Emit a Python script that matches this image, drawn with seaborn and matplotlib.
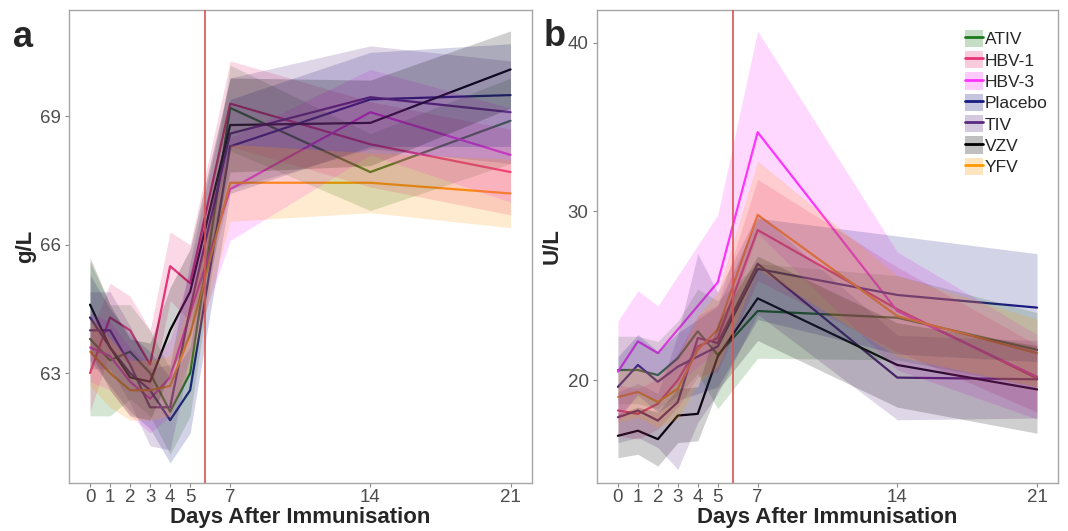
import pandas as pd
import matplotlib.pyplot as plt
import seaborn as sns
from matplotlib.patches import Patch
from matplotlib.lines import Line2D

# days sampled
days = [0, 1, 2, 3, 4, 5, 7, 14, 21]
groups = ["ATIV", "HBV-1", "HBV-3", "Placebo", "TIV", "VZV", "YFV"]
colors = ["#1b7a1b", "#e8337a", "#ff33ff", "#1a1a80", "#5a2a82", "#000000", "#ff9900"]

# panel a: total protein (g/L), group means and CI half-widths
a_ativ = [63.8, 63.3, 63.5, 63.0, 62.1, 63.0, 69.2, 67.7, 68.9]
a_hbv1 = [63.0, 64.3, 64.0, 63.2, 65.5, 65.1, 69.3, 68.35, 67.7]
a_hbv3 = [63.6, 63.4, 62.8, 62.4, 62.9, 64.4, 67.3, 69.1, 68.1]
a_placebo = [64.3, 63.6, 63.0, 62.6, 61.9, 62.6, 68.3, 69.4, 69.5]
a_tiv = [64.0, 64.0, 63.2, 62.2, 62.2, 64.5, 68.6, 69.45, 69.1]
a_vzv = [64.6, 63.6, 62.9, 62.8, 64.0, 64.9, 68.8, 68.85, 70.1]
a_yfv = [63.5, 63.0, 62.6, 62.6, 62.7, 63.9, 67.45, 67.45, 67.2]

a_ci_ativ = [1.8, 1.3, 1.1, 1.0, 1.0, 1.0, 1.0, 0.9, 1.0]
a_ci_hbv1 = [0.9, 0.8, 0.8, 0.8, 0.8, 0.9, 1.0, 1.0, 1.0]
a_ci_hbv3 = [0.8, 0.8, 0.8, 0.8, 0.9, 1.0, 1.2, 1.0, 1.1]
a_ci_placebo = [1.0, 0.9, 0.9, 0.9, 1.0, 1.0, 1.1, 1.1, 1.2]
a_ci_tiv = [0.9, 0.9, 0.9, 0.9, 1.0, 1.1, 1.3, 1.2, 1.2]
a_ci_vzv = [1.1, 1.0, 0.9, 0.9, 1.0, 1.0, 1.1, 1.0, 0.9]
a_ci_yfv = [0.8, 0.8, 0.7, 0.7, 0.7, 0.8, 0.9, 0.7, 0.8]

# panel b: enzyme activity (U/L)
b_ativ = [20.6, 20.6, 20.3, 21.3, 22.9, 21.5, 24.1, 23.7, 21.8]
b_hbv1 = [18.2, 18.0, 18.6, 20.0, 22.0, 22.5, 28.9, 24.2, 20.1]
b_hbv3 = [20.5, 22.3, 21.6, 23.0, 24.4, 25.8, 34.7, 24.1, 20.2]
b_placebo = [19.6, 20.9, 19.9, 20.8, 21.4, 22.0, 26.6, 25.05, 24.3]
b_tiv = [17.8, 18.2, 17.6, 18.7, 22.5, 22.2, 26.9, 20.15, 20.05]
b_vzv = [16.7, 17.0, 16.5, 17.9, 18.0, 21.4, 24.85, 20.9, 19.45]
b_yfv = [19.0, 19.3, 18.7, 19.5, 21.8, 23.0, 29.8, 23.8, 21.6]

b_ci_ativ = [2.0, 2.0, 2.0, 2.2, 2.5, 3.2, 2.8, 2.5, 2.2]
b_ci_hbv1 = [1.5, 1.5, 1.5, 1.6, 1.8, 2.0, 3.0, 2.5, 2.0]
b_ci_hbv3 = [3.0, 3.0, 2.8, 3.2, 3.6, 4.0, 6.0, 3.5, 2.5]
b_ci_placebo = [1.8, 1.8, 1.8, 2.0, 2.2, 2.4, 3.0, 3.5, 3.2]
b_ci_tiv = [1.5, 1.6, 1.6, 4.0, 5.0, 3.0, 3.0, 2.5, 2.3]
b_ci_vzv = [1.3, 1.4, 1.6, 1.6, 1.6, 2.0, 2.5, 2.5, 2.6]
b_ci_yfv = [1.5, 1.5, 1.5, 1.8, 2.0, 2.2, 3.2, 2.4, 2.0]

panel_a = dict(zip(groups, [a_ativ, a_hbv1, a_hbv3, a_placebo, a_tiv, a_vzv, a_yfv]))
panel_a_ci = dict(zip(groups, [a_ci_ativ, a_ci_hbv1, a_ci_hbv3, a_ci_placebo,
                               a_ci_tiv, a_ci_vzv, a_ci_yfv]))
panel_b = dict(zip(groups, [b_ativ, b_hbv1, b_hbv3, b_placebo, b_tiv, b_vzv, b_yfv]))
panel_b_ci = dict(zip(groups, [b_ci_ativ, b_ci_hbv1, b_ci_hbv3, b_ci_placebo,
                               b_ci_tiv, b_ci_vzv, b_ci_yfv]))


def to_long(means, cis):
    rows = []
    for g in groups:
        for d, m, c in zip(days, means[g], cis[g]):
            rows.append({"day": d, "value": m, "lo": m - c, "hi": m + c, "group": g})
    return pd.DataFrame(rows)


sns.set_theme(style="white")
plt.rcParams["font.family"] = ["Liberation Sans", "DejaVu Sans"]

fig = plt.figure(figsize=(10.68, 5.31), dpi=100)
ax_a = fig.add_axes([0.0646, 0.0904, 0.4331, 0.8908])
ax_b = fig.add_axes([0.559, 0.0904, 0.4316, 0.8908])

palette = dict(zip(groups, colors))


def draw_panel(ax, df, ylim, yticks, ylabel, ylab_x):
    sns.lineplot(data=df, x="day", y="value", hue="group", palette=palette,
                 ax=ax, legend=False, lw=1.6, zorder=2, errorbar=None)
    # ribbons drawn over the lines, like the original figure
    for g in groups:
        sub = df[df["group"] == g]
        ax.fill_between(sub["day"], sub["lo"], sub["hi"], color=palette[g],
                        alpha=0.19, lw=0, zorder=3)
    ax.axvline(5.75, color="#d9534f", lw=1.2, zorder=4)

    ax.set_xlim(-1.05, 22.05)
    ax.set_ylim(*ylim)
    ax.set_xticks(days)
    ax.set_yticks(yticks)
    ax.tick_params(axis="both", labelsize=13.5, labelcolor="#4d4d4d", color="#8c8c8c",
                   length=3, width=0.8, direction="out", bottom=True, left=True)
    ax.tick_params(axis="x", pad=1.5)
    ax.tick_params(axis="y", pad=3)
    for s in ax.spines.values():
        s.set_color("#a6a6a6")
        s.set_linewidth(1.0)
    ax.set_xlabel("Days After Immunisation", fontsize=16, fontweight="bold")
    ax.xaxis.set_label_coords(0.5, -0.05)
    ax.set_ylabel(ylabel, fontsize=16, fontweight="bold")
    ax.yaxis.set_label_coords(ylab_x, 0.5)
    ax.grid(False)


draw_panel(ax_a, to_long(panel_a, panel_a_ci), (60.43, 71.49), [63, 66, 69], "g/L", -0.07)
draw_panel(ax_b, to_long(panel_b, panel_b_ci), (13.9, 41.95), [20, 30, 40], "U/L", -0.074)

fig.text(0.012, 0.9115, "a", fontsize=26, fontweight="bold", va="baseline")
fig.text(0.509, 0.9135, "b", fontsize=26, fontweight="bold", va="baseline")

handles = [(Patch(facecolor=c, alpha=0.25, lw=0), Line2D([], [], color=c, lw=2))
           for c in colors]
ax_b.legend(handles, groups, loc="upper left", bbox_to_anchor=(0.798, 0.958),
            frameon=False, fontsize=12.5, handlelength=1.05, handleheight=1.15,
            handletextpad=0.1, labelspacing=0.22, borderaxespad=0, borderpad=0)

fig.savefig("out.png", dpi=100)
plt.close(fig)
